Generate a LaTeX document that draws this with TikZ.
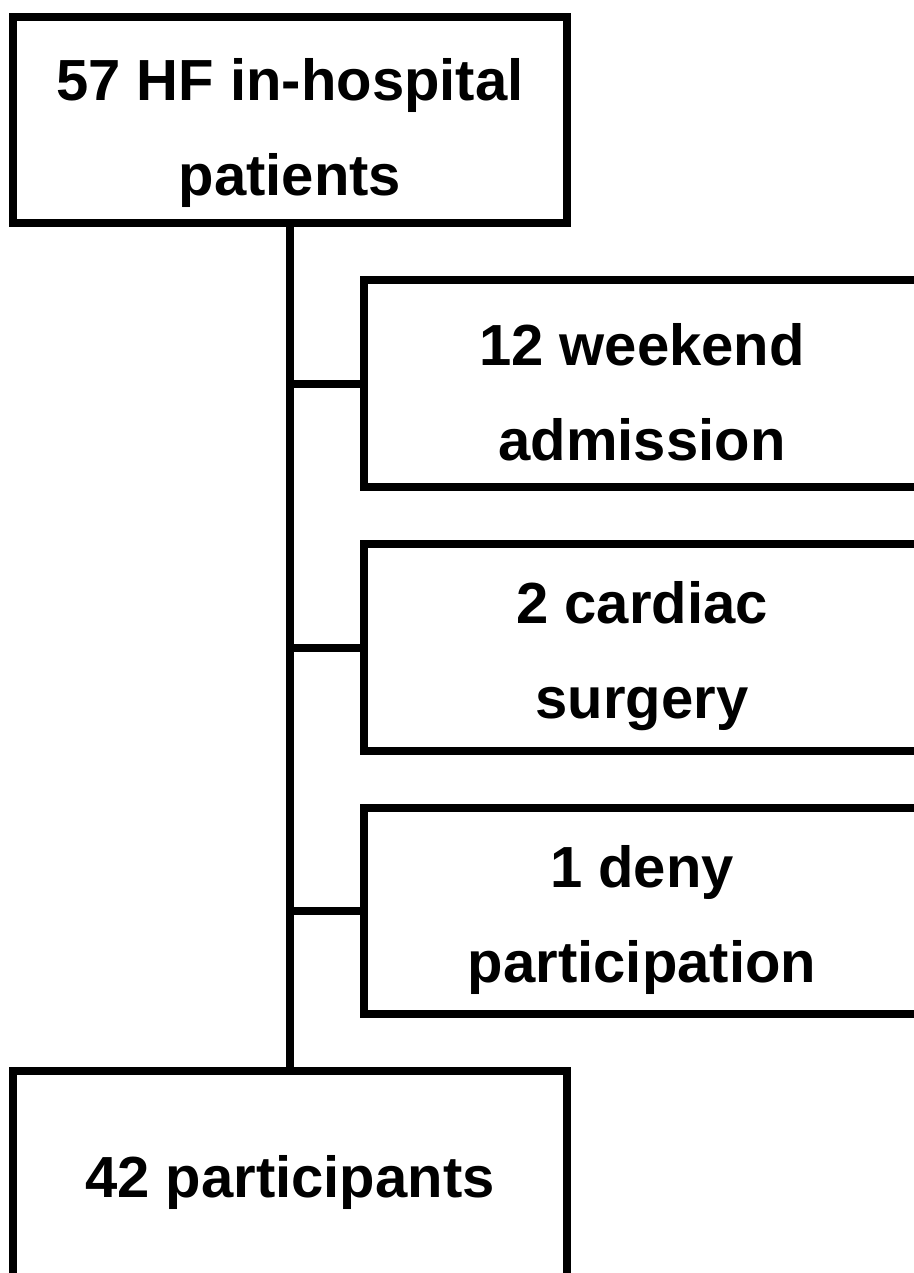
\documentclass[tikz,border=0pt]{standalone}
\usepackage{fontspec}
\setmainfont{Liberation Sans}
\begin{document}
\begin{tikzpicture}[x=1pt,y=-1pt,
  box/.style={draw=black,line width=8pt,rectangle,inner sep=0pt},
  txt/.style={inner sep=0pt,align=center,font=\fontsize{58}{95}\selectfont\bfseries},
  link/.style={draw=black,line width=8pt}]
\useasboundingbox (0,0) rectangle (913,1273);
\node[box,minimum width=554pt,minimum height=206pt] (top) at (290,120) {};
\node[box,minimum width=556pt,minimum height=207pt] (b1) at (642,383.5) {};
\node[box,minimum width=556pt,minimum height=207pt] (b2) at (642,647.5) {};
\node[box,minimum width=556pt,minimum height=206pt] (b3) at (642,911) {};
\node[box,minimum width=554pt,minimum height=207pt] (bot) at (290,1174.5) {};
\node[txt] (toptext) at ([yshift=-13pt]top.center) {57 HF in-hospital\\patients};
\node[txt] (b1text) at ([yshift=-9pt]b1.center) {12 weekend\\admission};
\node[txt] (b2text) at ([yshift=-9pt]b2.center) {2 cardiac\\surgery};
\node[txt] (b3text) at ([yshift=-9pt]b3.center) {1 deny\\participation};
\node[txt] (bottext) at ([yshift=-8pt]bot.center) {42 participants};
\draw[link] (top.south) -- (bot.north);
\draw[link] (b1.west -| top.south) -- (b1.west);
\draw[link] (b2.west -| top.south) -- (b2.west);
\draw[link] (b3.west -| top.south) -- (b3.west);
\end{tikzpicture}
\end{document}
